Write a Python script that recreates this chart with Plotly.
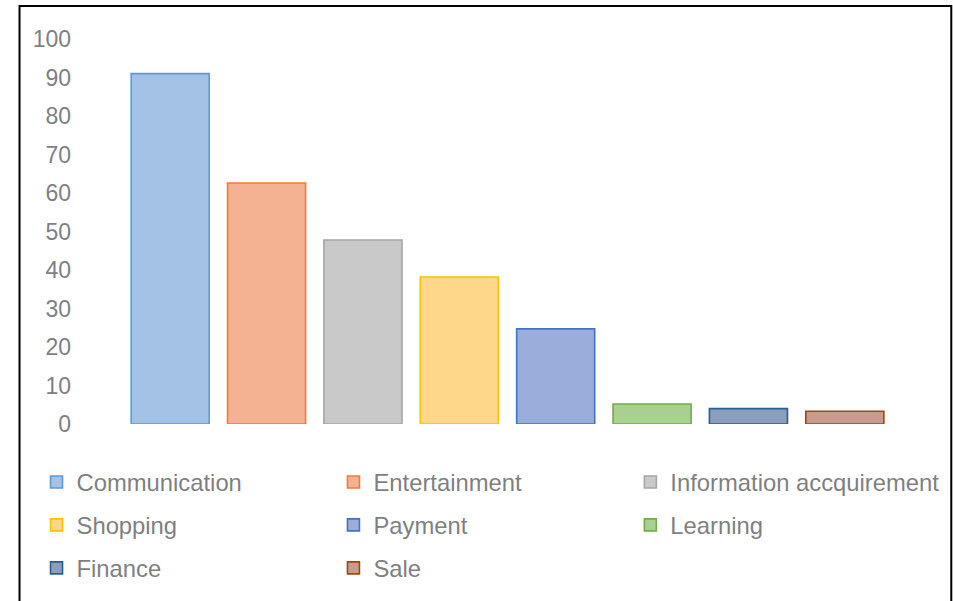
import plotly.graph_objects as go

# Share of respondents using smartphone apps for each purpose (%)
categories = ["Communication", "Entertainment", "Information accquirement",
              "Shopping", "Payment", "Learning", "Finance", "Sale"]
values = [91.0, 62.6, 47.8, 38.2, 24.7, 5.2, 4.0, 3.3]
y_ticks = [0, 10, 20, 30, 40, 50, 60, 70, 80, 90, 100]

fill_colors = ["#A3C2E6", "#F5B292", "#C9C9C9", "#FED78A",
               "#9AADDB", "#A8D08E", "#8B9FBD", "#C99B8D"]
line_colors = ["#5B9BD5", "#ED7D31", "#A5A5A5", "#FFC000",
               "#4472C4", "#70AD47", "#255E91", "#9E480E"]

W, H = 953, 601
PLOT_L, PLOT_R = 121.5, 892.7
PLOT_T, PLOT_B = 39.0, 424.0


def px_x(px):
    return (px - PLOT_L) / (PLOT_R - PLOT_L)


def px_y(py):
    return (PLOT_B - py) / (PLOT_B - PLOT_T)


LEGEND_FONT = dict(family="Liberation Sans, Arial, sans-serif", size=23.8, color="#7F7F7F")
TICK_FONT = dict(family="Liberation Sans, Arial, sans-serif", size=23, color="#7F7F7F")

fig = go.Figure()
# the legend is laid out as three columns, filled row by row
legend_names = ["legend", "legend2", "legend3"]
for i, (cat, val) in enumerate(zip(categories, values)):
    fig.add_trace(go.Bar(
        x=[cat], y=[val], name=cat,
        marker=dict(color=fill_colors[i],
                    line=dict(color=line_colors[i], width=1.6)),
        legend=legend_names[i % 3],
        legendgroup=cat,
        hoverinfo="name+y",
    ))

legend_common = dict(orientation="v", itemwidth=30, font=LEGEND_FONT,
                     bgcolor="rgba(0,0,0,0)", traceorder="grouped",
                     tracegroupgap=9, xanchor="left", yanchor="top")
col_x = [36, 333, 630]
legend_top = 460

fig.update_layout(
    width=W, height=H,
    margin=dict(l=PLOT_L, r=W - PLOT_R, t=PLOT_T, b=H - PLOT_B, pad=0,
                autoexpand=False),
    paper_bgcolor="white", plot_bgcolor="white",
    barmode="overlay", bargap=0.19,
    showlegend=True,
    legend=dict(**legend_common, x=px_x(col_x[0]), y=px_y(legend_top)),
    legend2=dict(**legend_common, x=px_x(col_x[1]), y=px_y(legend_top)),
    legend3=dict(**legend_common, x=px_x(col_x[2]), y=px_y(legend_top)),
    xaxis=dict(showticklabels=False, showgrid=False, zeroline=False,
               showline=False, ticks="", categoryorder="array",
               categoryarray=categories),
    yaxis=dict(range=[0, 100], tickvals=y_ticks, showgrid=False,
               zeroline=False, showline=False, ticks="",
               tickfont=TICK_FONT, ticklabelstandoff=50),
    shapes=[dict(type="rect", xref="paper", yref="paper",
                 x0=px_x(19), x1=px_x(951), y0=px_y(6), y1=px_y(640),
                 line=dict(color="black", width=2), fillcolor="rgba(0,0,0,0)",
                 layer="below")],
)

fig.write_html("out.html")
